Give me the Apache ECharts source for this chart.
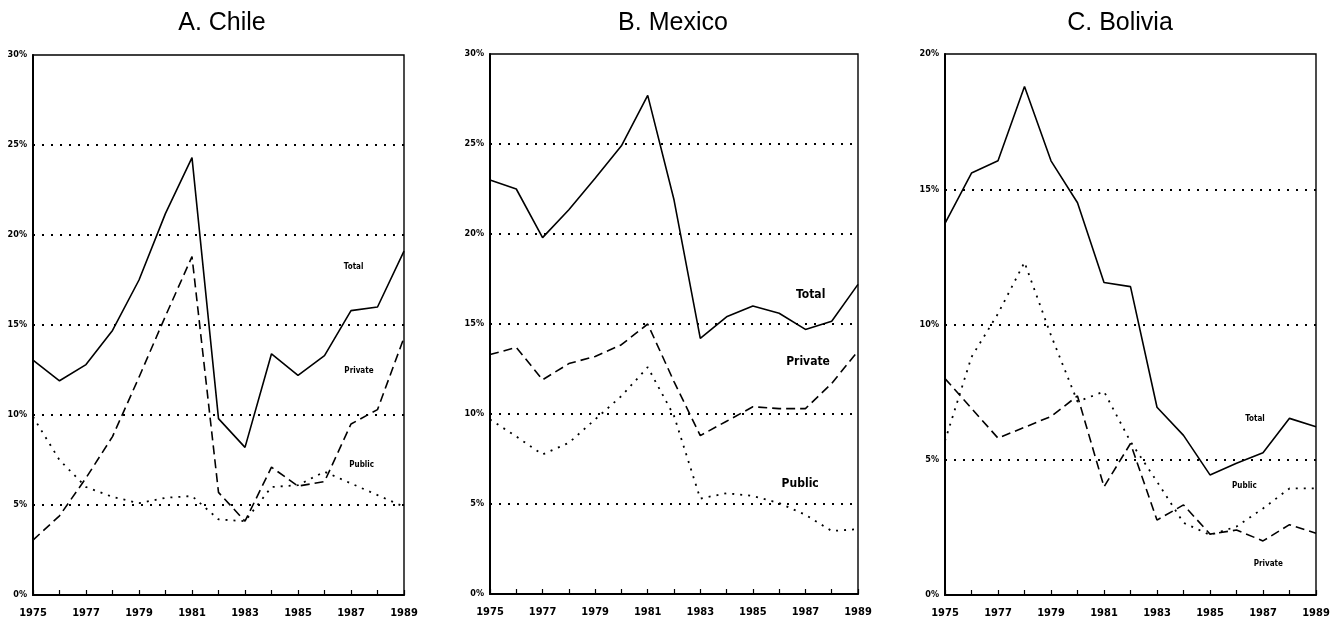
<!DOCTYPE html>
<html><head><meta charset="utf-8">
<script src="https://cdn.jsdelivr.net/npm/echarts@6/dist/echarts.min.js"></script>
<style>html,body{margin:0;padding:0;background:#fff}#c{width:1336px;height:623px}</style>
</head><body><div id="c"></div>
<script>
const years = [1975,1976,1977,1978,1979,1980,1981,1982,1983,1984,1985,1986,1987,1988,1989];
const xTickLabels = [1975,1977,1979,1981,1983,1985,1987,1989];

const chileTotal   = [13.05,11.9,12.8,14.7,17.5,21.2,24.3,9.8,8.2,13.4,12.2,13.3,15.8,16.0,19.1];
const chilePrivate = [3.05,4.4,6.5,8.8,12.1,15.5,18.8,5.7,4.1,7.1,6.05,6.3,9.5,10.3,14.3];
const chilePublic  = [9.9,7.5,6.0,5.45,5.1,5.4,5.5,4.2,4.1,6.0,6.1,6.85,6.2,5.55,4.9];

const mexicoTotal   = [23.0,22.5,19.8,21.35,23.1,24.9,27.7,21.9,14.2,15.4,16.0,15.6,14.7,15.15,17.2];
const mexicoPrivate = [13.3,13.7,11.9,12.8,13.2,13.85,15.0,11.8,8.8,9.6,10.4,10.3,10.3,11.7,13.5];
const mexicoPublic  = [9.7,8.75,7.75,8.4,9.7,11.0,12.6,9.9,5.3,5.6,5.45,5.05,4.4,3.5,3.6];

const boliviaTotal   = [13.74,15.6,16.05,18.8,16.05,14.5,11.55,11.4,6.94,5.9,4.44,4.87,5.26,6.53,6.22];
const boliviaPrivate = [8.0,6.9,5.8,6.2,6.6,7.36,4.0,5.6,2.77,3.33,2.25,2.4,2.0,2.6,2.28];
const boliviaPublic  = [5.7,8.8,10.4,12.3,9.6,7.15,7.52,5.67,4.19,2.67,2.22,2.53,3.2,3.94,3.94];

const panelTitles = ['A. Chile','B. Mexico','C. Bolivia'];
const yMax = [30,30,20];

const FONT = 'Liberation Sans';
const TICKFONT = '"DejaVu Sans Condensed", "Liberation Sans", sans-serif';
const grids = [
  {left:33, right:932, top:55, bottom:28},
  {left:490, right:478, top:54, bottom:29},
  {left:945, right:20, top:54, bottom:28}
];
const titleCenters = [217, 668, 1115];

// label anchors in data coordinates per panel: [series label, year, value, fontSize]
const labelAnchors = [
  [['Total',1987.1,18.2,8],['Private',1987.3,12.46,8],['Public',1987.4,7.2,8]],
  [['Total',1987.2,16.6,12],['Private',1987.1,12.87,12],['Public',1986.8,6.13,12]],
  [['Total',1986.7,6.5,8],['Private',1987.2,1.15,8],['Public',1986.3,4.03,8]]
];

const panels = [
  [chileTotal, chilePrivate, chilePublic],
  [mexicoTotal, mexicoPrivate, mexicoPublic],
  [boliviaTotal, boliviaPrivate, boliviaPublic]
];
const names = ['Total','Private','Public'];
const lineTypes = ['solid',[9,5],[2,6]];
const lineWidths = [1.6,1.6,1.8];

const pairs = v => years.map((y,i)=>[y, v[i]]);

const option = {
  animation:false,
  backgroundColor:'#fff',
  title: panelTitles.map((t,i)=>({
    text:t, left:titleCenters[i], top:6, textAlign:'center',
    textStyle:{fontFamily:FONT, fontSize:25, fontWeight:'normal', color:'#000'}
  })),
  grid: grids.map(g=>Object.assign({show:true, borderColor:'#000', borderWidth:1.4, backgroundColor:'transparent'}, g)),
  xAxis: grids.map((g,i)=>({
    type:'value', gridIndex:i, min:1975, max:1989, interval:1,
    axisLine:{show:true, lineStyle:{color:'#000', width:2}},
    axisTick:{show:true, inside:true, length:5, lineStyle:{color:'#000', width:1.2}},
    splitLine:{show:false},
    axisLabel:{
      margin:13, fontFamily:TICKFONT, fontSize:11, fontWeight:'bold', color:'#000',
      formatter: v => xTickLabels.indexOf(v) >= 0 ? String(v) : ''
    }
  })),
  yAxis: grids.map((g,i)=>({
    type:'value', gridIndex:i, min:0, max:yMax[i], interval:5,
    axisLine:{show:true, lineStyle:{color:'#000', width:2}},
    axisTick:{show:false},
    splitLine:{show:true, showMinLine:false, showMaxLine:false, lineStyle:{color:'#000', type:[2,7], width:1.8}},
    axisLabel:{margin:6, fontFamily:TICKFONT, fontSize:9, fontWeight:'bold', color:'#000', formatter:'{value}%'}
  })),
  series: []
};

panels.forEach((p,pi)=>{
  p.forEach((vals,si)=>{
    const anchor = labelAnchors[pi].find(a=>a[0]===names[si]);
    option.series.push({
      type:'line', name:names[si], xAxisIndex:pi, yAxisIndex:pi,
      data: pairs(vals), symbol:'none', silent:true,
      lineStyle:{color:'#000', width:lineWidths[si], type:lineTypes[si]},
      markPoint:{
        symbol:'circle', symbolSize:0, silent:true,
        itemStyle:{color:'transparent'},
        label:{show:true, position:'inside', formatter:anchor[0], color:'#000',
               fontFamily:TICKFONT, fontSize:anchor[3], fontWeight:'bold'},
        data:[{coord:[anchor[1], anchor[2]]}]
      }
    });
  });
});

const chart = echarts.init(document.getElementById('c'), null, {renderer:'canvas'});
chart.setOption(option);
</script>
</body></html>
